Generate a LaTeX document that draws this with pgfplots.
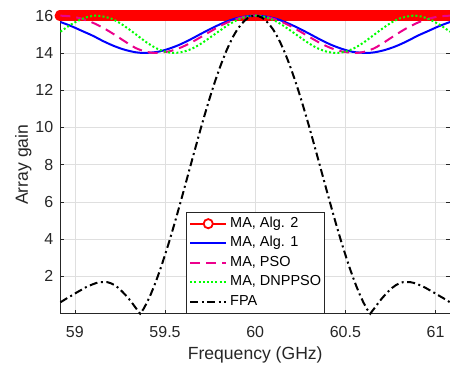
\documentclass[border=0pt]{standalone}
\usepackage{pgfplots}
\pgfplotsset{compat=1.18}
\usepackage{pgfplotstable}
\usepackage{fontspec}
\setmainfont{Liberation Sans}
\definecolor{axcol}{RGB}{38,38,38}
\definecolor{gridcol}{RGB}{223,223,223}
\definecolor{mgreen}{rgb}{0,1,0}

\pgfplotstableread{
x y
58.92 15.66
58.98 15.44
59.04 15.18
59.10 14.92
59.16 14.62
59.22 14.36
59.28 14.16
59.34 14.03
59.39 14.00
59.46 14.06
59.52 14.22
59.58 14.44
59.64 14.72
59.70 15.03
59.76 15.33
59.82 15.60
59.88 15.82
59.94 15.95
60.00 16.00
60.06 15.95
60.12 15.82
60.18 15.60
60.24 15.33
60.30 15.03
60.36 14.72
60.42 14.44
60.48 14.22
60.54 14.06
60.61 14.00
60.66 14.03
60.72 14.16
60.78 14.36
60.84 14.62
60.90 14.92
60.96 15.18
61.02 15.44
61.08 15.66
}\algone

\pgfplotstableread{
x y
58.92 16.00
58.98 15.96
59.04 15.83
59.10 15.62
59.16 15.33
59.22 14.98
59.28 14.60
59.34 14.25
59.40 14.05
59.45 14.00
59.52 14.08
59.58 14.26
59.64 14.53
59.70 14.86
59.76 15.20
59.82 15.52
59.88 15.77
59.94 15.94
60.00 16.00
60.06 15.94
60.12 15.77
60.18 15.52
60.24 15.20
60.30 14.86
60.36 14.53
60.42 14.26
60.48 14.08
60.55 14.00
60.60 14.05
60.66 14.25
60.72 14.60
60.78 14.98
60.84 15.33
60.90 15.62
60.96 15.83
61.02 15.96
61.08 16.00
}\pso

\pgfplotstableread{
x y
58.92 15.14
58.97 15.47
59.02 15.74
59.07 15.93
59.125 16.00
59.20 15.85
59.25 15.60
59.30 15.27
59.35 14.91
59.40 14.55
59.45 14.26
59.50 14.07
59.55 14.00
59.60 14.06
59.65 14.23
59.70 14.50
59.75 14.83
59.80 15.17
59.85 15.50
59.90 15.77
59.95 15.94
60.00 16.00
60.05 15.94
60.10 15.77
60.15 15.50
60.20 15.17
60.25 14.83
60.30 14.50
60.35 14.23
60.40 14.06
60.45 14.00
60.50 14.07
60.55 14.26
60.60 14.55
60.65 14.91
60.70 15.27
60.75 15.60
60.80 15.85
60.875 16.00
60.93 15.93
60.98 15.74
61.03 15.47
61.08 15.14
}\dnppso

\pgfplotstableread{
x y
58.92 0.61
58.94 0.73
58.96 0.85
58.98 0.96
59.00 1.08
59.02 1.19
59.04 1.30
59.06 1.41
59.08 1.50
59.10 1.58
59.12 1.65
59.14 1.69
59.16 1.70
59.18 1.69
59.20 1.63
59.22 1.53
59.24 1.39
59.26 1.21
59.28 1.01
59.30 0.79
59.32 0.54
59.34 0.28
59.362 0
59.38 0.24
59.40 0.60
59.42 1.02
59.44 1.49
59.46 2.01
59.48 2.56
59.50 3.16
59.52 3.77
59.54 4.42
59.56 5.09
59.58 5.78
59.60 6.48
59.62 7.19
59.64 7.90
59.66 8.61
59.68 9.31
59.70 10.01
59.72 10.68
59.74 11.33
59.76 11.96
59.78 12.55
59.80 13.11
59.82 13.63
59.84 14.11
59.86 14.54
59.88 14.92
59.90 15.25
59.92 15.51
59.94 15.72
59.96 15.88
59.98 15.97
60.00 16.00
60.02 15.97
60.04 15.88
60.06 15.72
60.08 15.51
60.10 15.25
60.12 14.92
60.14 14.54
60.16 14.11
60.18 13.63
60.20 13.11
60.22 12.55
60.24 11.96
60.26 11.33
60.28 10.68
60.30 10.01
60.32 9.31
60.34 8.61
60.36 7.90
60.38 7.19
60.40 6.48
60.42 5.78
60.44 5.09
60.46 4.42
60.48 3.77
60.50 3.16
60.52 2.56
60.54 2.01
60.56 1.49
60.58 1.02
60.60 0.60
60.62 0.24
60.638 0
60.66 0.28
60.68 0.54
60.70 0.79
60.72 1.01
60.74 1.21
60.76 1.39
60.78 1.53
60.80 1.63
60.82 1.69
60.84 1.70
60.86 1.69
60.88 1.65
60.90 1.58
60.92 1.50
60.94 1.41
60.96 1.30
60.98 1.19
61.00 1.08
61.02 0.96
61.04 0.85
61.06 0.73
61.08 0.61
}\fpa

\begin{document}
\begin{tikzpicture}
\begin{axis}[
  name=ax,
  width=390pt, height=298.3pt, scale only axis,
  xmin=58.92, xmax=61.08, ymin=0, ymax=16,
  clip=false,
  xtick={59,59.5,60,60.5,61}, xticklabels={59,59.5,60,60.5,61},
  ytick={2,4,6,8,10,12,14,16}, yticklabels={2,4,6,8,10,12,14,16},
  grid=major, major grid style={gridcol, line width=0.6pt},
  axis line style={axcol, line width=0.6pt},
  tick style={axcol, line width=0.6pt},
  tick align=inside, major tick length=4pt,
  tick label style={font=\fontsize{16}{19}\selectfont, text=axcol, inner sep=0pt},
  xticklabel style={yshift=-12.7pt},
  yticklabel style={xshift=-7pt},
  xlabel={Frequency (GHz)}, ylabel={Array gain},
  label style={font=\fontsize{17.6}{21}\selectfont, text=axcol, inner sep=0pt},
  xlabel style={at={(axis description cs:0.5,-0.1096)}, anchor=north},
  ylabel style={at={(axis description cs:-0.1167,0.5)}, anchor=north},
  legend cell align=left,
  legend image code/.code={\draw[#1] (0pt,0pt) -- (36pt,0pt);},
  legend style={at={(0.5,0)}, anchor=south, font=\fontsize{14.5}{17}\selectfont,
    draw=axcol, line width=0.6pt, fill=white, inner xsep=3pt, inner ysep=5pt,
    row sep=6pt, column sep=3pt,
    nodes={inner sep=0pt, text height=10.5pt, text depth=3pt}},
]
\addplot[red, line width=11.6pt, line cap=round,
  legend image code/.code={%
    \draw[red, line width=1.8pt, line cap=butt] (0pt,0pt) -- (13pt,0pt);
    \draw[red, line width=1.8pt, line cap=butt] (23pt,0pt) -- (36pt,0pt);
    \draw[red, line width=1.8pt] (18pt,0pt) circle (4.6pt);}]
coordinates {
(58.92,16)(59.00,16)(59.20,16)(59.40,16)(59.60,16)(59.80,16)(60.00,16)
(60.20,16)(60.40,16)(60.60,16)(60.80,16)(61.00,16)(61.08,16)
};
\addlegendentry{MA, Alg. 2}
\addplot[blue, line width=2pt, smooth] table {\algone};
\addlegendentry{MA, Alg. 1}
\addplot[magenta, line width=2pt, smooth, dash pattern=on 10pt off 6pt] table {\pso};
\addlegendentry{MA, PSO}
\addplot[mgreen, line width=2pt, smooth, dash pattern=on 2pt off 2.2pt] table {\dnppso};
\addlegendentry{MA, DNPPSO}
\addplot[black, line width=2pt, dash pattern=on 8pt off 3.5pt on 2pt off 3.5pt] table {\fpa};
\addlegendentry{FPA}
\end{axis}
\pgfresetboundingbox
\path[use as bounding box] ([shift={(-60.5pt,-52pt)}]ax.south west) rectangle ([shift={(0pt,15.7pt)}]ax.north east);
\end{tikzpicture}
\end{document}
